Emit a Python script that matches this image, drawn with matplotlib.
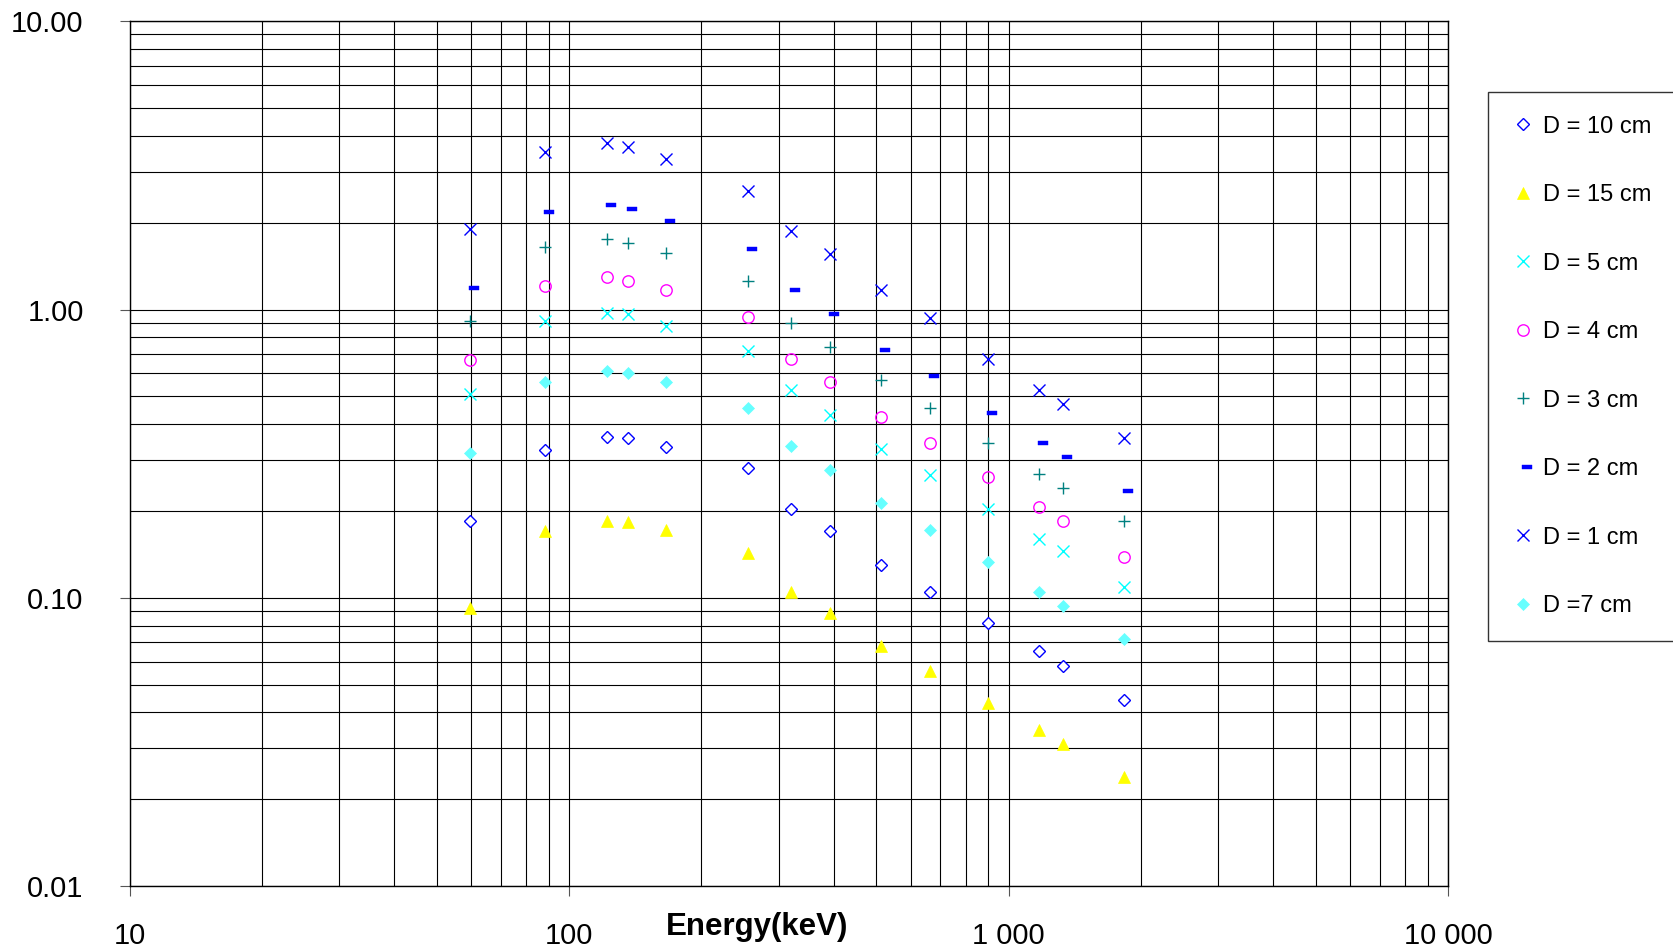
"""
Attenuation vs gamma energy for several detector distances (log-log scatter)
"""
import matplotlib
matplotlib.use("Agg")
import matplotlib.pyplot as plt
from matplotlib.path import Path
from matplotlib.ticker import FixedLocator, FixedFormatter, LogLocator, NullFormatter

plt.rcParams["font.family"] = ["Liberation Sans", "DejaVu Sans"]

# gamma energies (keV)
energy = [59.5, 88, 122, 136, 165.9, 255, 320, 392, 514, 662, 898, 1173, 1332, 1836]

d10 = [0.184, 0.325, 0.362, 0.358, 0.334, 0.282, 0.203, 0.170, 0.130, 0.105, 0.0815, 0.0651, 0.0580, 0.0443]
d15 = [0.092, 0.170, 0.184, 0.183, 0.172, 0.143, 0.105, 0.0884, 0.0678, 0.0558, 0.0431, 0.0348, 0.0310, 0.0238]
d5 = [0.509, 0.913, 0.976, 0.963, 0.879, 0.717, 0.526, 0.429, 0.329, 0.267, 0.204, 0.160, 0.145, 0.109]
d4 = [0.667, 1.208, 1.294, 1.257, 1.170, 0.940, 0.676, 0.562, 0.425, 0.344, 0.263, 0.207, 0.184, 0.139]
d3 = [0.912, 1.644, 1.758, 1.706, 1.576, 1.257, 0.898, 0.743, 0.570, 0.456, 0.344, 0.269, 0.241, 0.184]
d2 = [1.19, 2.185, 2.30, 2.24, 2.03, 1.62, 1.172, 0.963, 0.726, 0.587, 0.437, 0.344, 0.308, 0.234]
d1 = [1.90, 3.51, 3.77, 3.67, 3.32, 2.58, 1.87, 1.556, 1.17, 0.938, 0.676, 0.525, 0.469, 0.358]
d7 = [0.318, 0.562, 0.614, 0.604, 0.562, 0.457, 0.335, 0.278, 0.213, 0.172, 0.1335, 0.105, 0.094, 0.0718]

labels = ["D = 10 cm", "D = 15 cm", "D = 5 cm", "D = 4 cm",
          "D = 3 cm", "D = 2 cm", "D = 1 cm", "D =7 cm"]

x_ticks = [10, 100, 1000, 10000]
x_ticklabels = ["10", "100", "1 000", "10 000"]
y_ticks = [0.01, 0.1, 1, 10]
y_ticklabels = ["0.01", "0.10", "1.00", "10.00"]

# Excel-style short dash marker, sitting a bit right of the point
dash = Path([(-0.1, -0.28), (1.0, -0.28), (1.0, 0.28), (-0.1, 0.28), (-0.1, -0.28)],
            [Path.MOVETO, Path.LINETO, Path.LINETO, Path.LINETO, Path.CLOSEPOLY])

styles = [
    dict(marker="D", ms=6.2, mfc="white", mec="#0000FF", mew=1.0),
    dict(marker="^", ms=8.6, mfc="#FFFF00", mec="#FFFF00", mew=0.5),
    dict(marker="x", ms=8.0, mfc="none", mec="#00FFFF", mew=1.0),
    dict(marker="o", ms=8.2, mfc="none", mec="#FF00FF", mew=1.0),
    dict(marker="+", ms=8.0, mfc="none", mec="#008080", mew=1.0),
    dict(marker=dash, ms=12.7, mfc="#0000FF", mec="#0000FF", mew=0.3),
    dict(marker="x", ms=8.0, mfc="none", mec="#0000FF", mew=1.0),
    dict(marker="D", ms=6.2, mfc="#66FFFF", mec="#66FFFF", mew=0.5),
]

fig = plt.figure(figsize=(16.73, 9.49), dpi=100)
ax = fig.add_axes([129.5 / 1673, 1 - 886 / 949, (1448 - 129.5) / 1673, (886 - 21.3) / 949])

for series, lbl, st in zip([d10, d15, d5, d4, d3, d2, d1, d7], labels, styles):
    ax.plot(energy, series, linestyle="none", label=lbl, zorder=3, **st)

ax.set_xscale("log")
ax.set_yscale("log")
ax.set_xlim(10, 10000)
ax.set_ylim(0.01, 10)

ax.xaxis.set_major_locator(FixedLocator(x_ticks))
ax.xaxis.set_major_formatter(FixedFormatter(x_ticklabels))
ax.yaxis.set_major_locator(FixedLocator(y_ticks))
ax.yaxis.set_major_formatter(FixedFormatter(y_ticklabels))
for axis in (ax.xaxis, ax.yaxis):
    axis.set_minor_locator(LogLocator(base=10, subs=range(2, 10)))
    axis.set_minor_formatter(NullFormatter())

ax.grid(True, which="both", color="black", linewidth=0.8)
ax.set_axisbelow(True)
ax.tick_params(which="major", direction="out", length=7, width=0.8,
               color="#555555", labelsize=21)
ax.tick_params(axis="x", which="major", pad=19)
ax.tick_params(axis="y", which="major", pad=26)
ax.tick_params(which="minor", length=0)
for sp in ax.spines.values():
    sp.set_color("black")
    sp.set_linewidth(1.0)

ax.set_xlabel("Energy(keV)", fontsize=22.5, fontweight="bold", va="center")
ax.xaxis.set_label_coords(0.476, -0.047)

leg = ax.legend(loc="upper left", bbox_to_anchor=(1488 / 1673, 1 - 92 / 949),
                bbox_transform=fig.transFigure, borderaxespad=0,
                fontsize=17, frameon=True, fancybox=False,
                edgecolor="#333333", framealpha=1, borderpad=1.0,
                handlelength=1.0, handletextpad=0.35, labelspacing=1.97,
                numpoints=1)
leg.get_frame().set_linewidth(1.0)

fig.savefig("out.png", dpi=100)
